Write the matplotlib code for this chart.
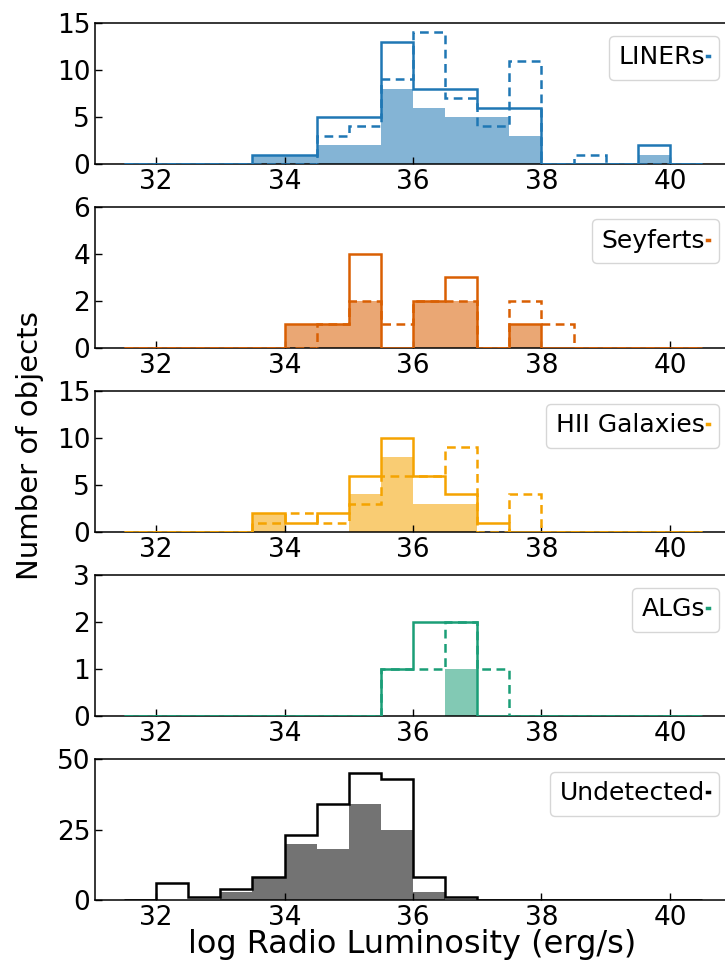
import numpy as np
import matplotlib
matplotlib.use("Agg")
import matplotlib.pyplot as plt
from matplotlib.lines import Line2D

# Bin edges in log radio luminosity (0.5 dex bins)
edges = np.arange(31.5, 40.51, 0.5)
centers = edges[:-1] + 0.25

classes = ["LINERs", "Seyferts", "HII Galaxies", "ALGs", "Undetected"]
colors = ["#1f77b4", "#d95f02", "#f5a300", "#1b9e77", "#000000"]

# Counts per bin: total sample (solid), subset (filled), comparison (dashed)
liners_total = [0, 0, 0, 0, 1, 1, 5, 5, 13, 8, 8, 6, 6, 0, 0, 0, 2, 0]
liners_fill = [0, 0, 0, 0, 1, 1, 2, 2, 8, 6, 5, 5, 3, 0, 0, 0, 1, 0]
liners_dash = [0, 0, 0, 0, 0, 0, 3, 4, 9, 14, 7, 4, 11, 0, 1, 0, 0, 0]

seyferts_total = [0, 0, 0, 0, 0, 1, 1, 4, 0, 2, 3, 0, 1, 0, 0, 0, 0, 0]
seyferts_fill = [0, 0, 0, 0, 0, 1, 1, 2, 0, 2, 2, 0, 1, 0, 0, 0, 0, 0]
seyferts_dash = [0, 0, 0, 0, 0, 0, 1, 2, 1, 2, 2, 0, 2, 1, 0, 0, 0, 0]

hii_total = [0, 0, 0, 0, 2, 1, 2, 6, 10, 6, 4, 1, 0, 0, 0, 0, 0, 0]
hii_fill = [0, 0, 0, 0, 2, 0, 0, 4, 8, 3, 3, 0, 0, 0, 0, 0, 0, 0]
hii_dash = [0, 0, 0, 0, 1, 2, 1, 3, 6, 6, 9, 0, 4, 0, 0, 0, 0, 0]

algs_total = [0, 0, 0, 0, 0, 0, 0, 0, 1, 2, 2, 0, 0, 0, 0, 0, 0, 0]
algs_fill = [0, 0, 0, 0, 0, 0, 0, 0, 0, 0, 1, 0, 0, 0, 0, 0, 0, 0]
algs_dash = [0, 0, 0, 0, 0, 0, 0, 0, 1, 1, 2, 1, 0, 0, 0, 0, 0, 0]

undet_total = [0, 6, 1, 4, 8, 23, 34, 45, 43, 8, 1, 0, 0, 0, 0, 0, 0, 0]
undet_fill = [0, 0, 0, 3, 8, 20, 18, 34, 25, 3, 0, 0, 0, 0, 0, 0, 0, 0]
undet_dash = None

totals = [liners_total, seyferts_total, hii_total, algs_total, undet_total]
fills = [liners_fill, seyferts_fill, hii_fill, algs_fill, undet_fill]
dashes = [liners_dash, seyferts_dash, hii_dash, algs_dash, undet_dash]

ylims = [15, 6, 15, 3, 50]
yticks = [[0, 5, 10, 15], [0, 2, 4, 6], [0, 5, 10, 15], [0, 1, 2, 3], [0, 25, 50]]
xticks = [32, 34, 36, 38, 40]

W, H = 725, 969
fig = plt.figure(figsize=(W / 100, H / 100), dpi=100)

left_px, right_px = 95, 731
panel_top_px = [23, 207, 391, 575, 759]
panel_h_px = 141

for i in range(5):
    top = panel_top_px[i]
    ax = fig.add_axes([left_px / W, 1 - (top + panel_h_px) / H,
                       (right_px - left_px) / W, panel_h_px / H])
    c = colors[i]
    ax.hist(centers, bins=edges, weights=fills[i], histtype="stepfilled",
            color=c, alpha=0.55, linewidth=0)
    if dashes[i] is not None:
        ax.hist(centers, bins=edges, weights=dashes[i], histtype="step",
                color=c, linewidth=1.8, linestyle=(0, (3.5, 2.2)), zorder=3)
    ax.hist(centers, bins=edges, weights=totals[i], histtype="step",
            color=c, linewidth=1.8, zorder=3)

    ax.set_xlim(31.05, 40.95)
    ax.set_ylim(0, ylims[i])
    ax.set_yticks(yticks[i])
    ax.set_xticks(xticks)
    ax.tick_params(direction="in", length=5, width=1, labelsize=19)
    for s in ax.spines.values():
        s.set_linewidth(1.1)

    proxy = Line2D([], [], color=c, linewidth=2.5)
    ax.legend([proxy], [classes[i]], loc="upper right", fontsize=18,
              markerfirst=False, handlelength=0.08, handletextpad=0.05)

fig.text(30 / W, 1 - 446 / H, "Number of objects", rotation=90,
         ha="center", va="center", fontsize=21)
fig.text(412 / W, 1 - 944 / H, "log Radio Luminosity (erg/s)",
         ha="center", va="center", fontsize=23)

fig.savefig("out.png", dpi=100)
